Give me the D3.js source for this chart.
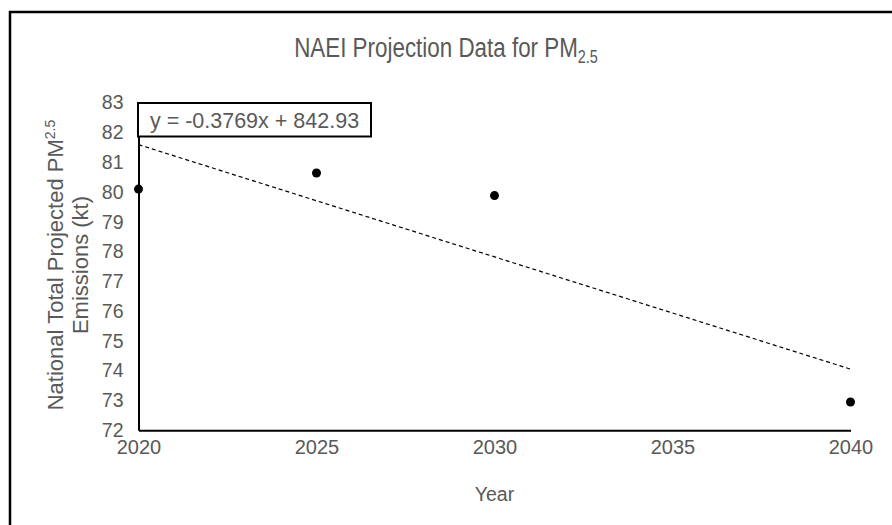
<!DOCTYPE html>
<html><head><meta charset="utf-8">
<script src="https://cdn.jsdelivr.net/npm/d3@7"></script>
<style>body{margin:0;background:#fff}svg text{font-family:"Liberation Sans",Arial,sans-serif}</style>
</head><body><svg id="c" width="892" height="525"></svg>
<script>
const years = [2020, 2025, 2030, 2040];
const emissions = [80.10, 80.64, 79.88, 72.95];
const xTicks = [2020, 2025, 2030, 2035, 2040];
const yTicks = [72, 73, 74, 75, 76, 77, 78, 79, 80, 81, 82, 83];
const trendSlope = [-0.3769];
const trendIntercept = [842.93];
const trendLabel = "y = -0.3769x + 842.93";

const svg = d3.select("#c");
const grey = "#595959";
const m = {l: 138.5, r: 850.5, t: 102.7, b: 430.3};
const x = d3.scaleLinear().domain([2020, 2040]).range([m.l, m.r]);
const y = d3.scaleLinear().domain([72, 83]).range([m.b, m.t]);

// outer frame
svg.append("rect").attr("x", 10).attr("y", 12).attr("width", 900).attr("height", 600)
  .attr("fill", "none").attr("stroke", "#000").attr("stroke-width", 2.5);

// title
const title = svg.append("text").attr("transform", "translate(446,57) scale(0.8,1)")
  .attr("text-anchor", "middle").attr("fill", grey).attr("font-size", 28);
title.append("tspan").text("NAEI Projection Data for PM");
title.append("tspan").attr("font-size", 18).attr("dy", 6).text("2.5");

// axes
const xAxis = d3.axisBottom(x).tickValues(xTicks).tickFormat(d3.format("d")).tickSize(0).tickPadding(10);
const gx = svg.append("g").attr("transform", `translate(0,${m.b})`).call(xAxis);
gx.select(".domain").attr("stroke", "#000").attr("stroke-width", 2);
gx.selectAll("text").attr("fill", grey).attr("font-size", 20);

const yAxis = d3.axisLeft(y).tickValues(yTicks).tickSize(0).tickPadding(15);
const gy = svg.append("g").attr("transform", `translate(${m.l},0)`).call(yAxis);
gy.select(".domain").attr("stroke", "#000").attr("stroke-width", 2);
gy.selectAll("text").attr("fill", grey).attr("font-size", 19.5);

// axis titles
svg.append("text").attr("x", (m.l + m.r) / 2).attr("y", 501).attr("text-anchor", "middle")
  .attr("fill", grey).attr("font-size", 19.5).text("Year");
const yl = svg.append("text").attr("transform", "translate(63,265) rotate(-90)")
  .attr("text-anchor", "middle").attr("fill", grey).attr("font-size", 22);
yl.append("tspan").text("National Total Projected PM");
yl.append("tspan").attr("font-size", 14).attr("dy", -8).text("2.5");
svg.append("text").attr("transform", "translate(88,265) rotate(-90)")
  .attr("text-anchor", "middle").attr("fill", grey).attr("font-size", 22).text("Emissions (kt)");

// trendline
const tl = d3.line().x(d => x(d)).y(d => y(trendSlope[0] * d + trendIntercept[0]));
svg.append("path").datum([2020, 2040]).attr("d", tl).attr("fill", "none")
  .attr("stroke", "#000").attr("stroke-width", 1.2).attr("stroke-dasharray", "4,3");

// points
svg.selectAll("circle.pt").data(years).join("circle").attr("class", "pt")
  .attr("cx", d => x(d)).attr("cy", (d, i) => y(emissions[i])).attr("r", 4.5).attr("fill", "#000");

// equation label
const eg = svg.append("g");
eg.append("rect").attr("x", 138).attr("y", 103).attr("width", 233).attr("height", 33.5)
  .attr("fill", "#fff").attr("stroke", "#000").attr("stroke-width", 2);
eg.append("text").attr("x", 254.5).attr("y", 127.5).attr("text-anchor", "middle")
  .attr("fill", grey).attr("font-size", 21.5).text(trendLabel);
</script></body></html>
